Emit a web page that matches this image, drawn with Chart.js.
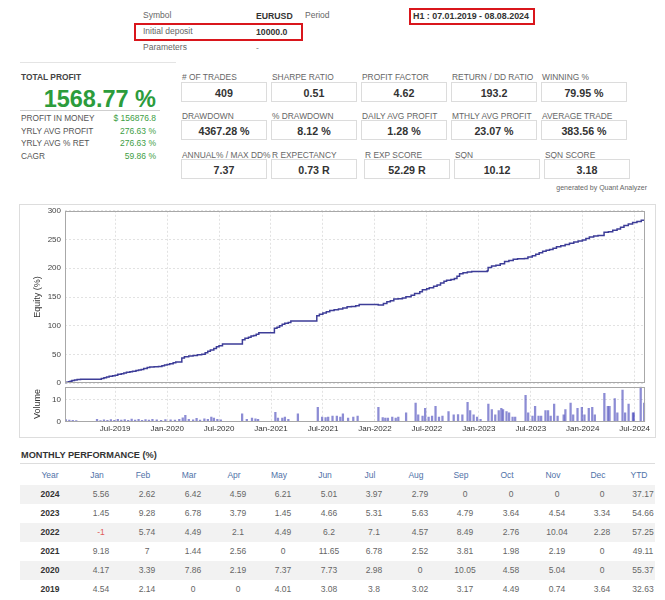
<!DOCTYPE html>
<html><head><meta charset="utf-8">
<script src="https://cdn.jsdelivr.net/npm/chart.js@4.4.1/dist/chart.umd.min.js"></script>
<style>
body{margin:0;background:#fff;font-family:"Liberation Sans",Arial,sans-serif;color:#555;}
#page{position:relative;width:665px;height:600px;overflow:hidden;}
.t{position:absolute;white-space:nowrap;line-height:12px;height:12px;}
.box{position:absolute;box-sizing:border-box;}
canvas{position:absolute;}
</style></head><body><div id="page">
<canvas id="eq"></canvas>
<canvas id="vol"></canvas>
</div>
<script>
// ---------- data ----------
const headerLabels = ['Symbol', 'Initial deposit', 'Parameters'];
const headerValues = ['EURUSD', '10000.0', '-'];
const periodText = 'H1 : 07.01.2019 - 08.08.2024';
const totalProfit = '1568.77 %';
const profitLabels = ['PROFIT IN MONEY', 'YRLY AVG PROFIT', 'YRLY AVG % RET', 'CAGR'];
const profitValues = ['$ 156876.8', '276.63 %', '276.63 %', '59.86 %'];
const statLabels1 = ['# OF TRADES', 'SHARPE RATIO', 'PROFIT FACTOR', 'RETURN / DD RATIO', 'WINNING %'];
const statValues1 = ['409', '0.51', '4.62', '193.2', '79.95 %'];
const statLabels2 = ['DRAWDOWN', '% DRAWDOWN', 'DAILY AVG PROFIT', 'MTHLY AVG PROFIT', 'AVERAGE TRADE'];
const statValues2 = ['4367.28 %', '8.12 %', '1.28 %', '23.07 %', '383.56 %'];
const statLabels3 = ['ANNUAL% / MAX DD%', 'R EXPECTANCY', 'R EXP SCORE', 'SQN', 'SQN SCORE'];
const statValues3 = ['7.37', '0.73 R', '52.29 R', '10.12', '3.18'];

const tableHead = ['Year','Jan','Feb','Mar','Apr','May','Jun','Jul','Aug','Sep','Oct','Nov','Dec','YTD'];
const years = ['2024','2023','2022','2021','2020','2019'];
const perf2024 = [5.56, 2.62, 6.42, 4.59, 6.21, 5.01, 3.97, 2.79, 0, 0, 0, 0, 37.17];
const perf2023 = [1.45, 9.28, 6.78, 3.79, 1.45, 4.66, 5.31, 5.63, 4.79, 3.64, 4.54, 3.34, 54.66];
const perf2022 = [-1, 5.74, 4.49, 2.1, 4.49, 6.2, 7.1, 4.57, 8.49, 2.76, 10.04, 2.28, 57.25];
const perf2021 = [9.18, 7, 1.44, 2.56, 0, 11.65, 6.78, 2.52, 3.81, 1.98, 2.19, 0, 49.11];
const perf2020 = [4.17, 3.39, 7.86, 2.19, 7.37, 7.73, 2.98, 0, 10.05, 4.58, 5.04, 0, 55.37];
const perf2019 = [4.54, 2.14, 0, 0, 4.01, 3.08, 3.8, 3.02, 3.17, 4.49, 0.74, 3.64, 32.63];

// x values are months since 1 Jan 2019
const xMin = 0.2, xMax = 67.23;
const tickVals = [6, 12, 18, 24, 30, 36, 42, 48, 54, 60, 66];
const tickLabels = ['Jul-2019','Jan-2020','Jul-2020','Jan-2021','Jul-2021','Jan-2022','Jul-2022','Jan-2023','Jul-2023','Jan-2024','Jul-2024'];

const equityX = [0.2,0.4,0.6,0.8,1.0,1.3,1.6,2.0,4.2,4.4,4.7,5.0,5.3,5.7,6.0,6.3,6.7,7.0,7.3,7.7,8.0,8.4,8.7,9.0,9.3,9.7,10.0,10.5,11.0,11.4,11.7,12.0,
 12.3,12.7,13.0,13.6,13.7,14.0,14.5,15.0,15.5,16.0,16.4,16.7,17.0,17.4,17.7,18.0,18.4,20.6,20.7,21.0,21.4,21.7,22.0,22.3,22.6,24.3,
 24.4,24.7,25.0,25.3,25.6,26.0,26.3,29.2,29.3,29.6,30.0,30.4,30.8,31.3,31.8,32.3,32.8,33.3,33.8,34.2,36.2,36.4,36.7,
 37.0,37.4,37.8,38.2,38.7,39.2,39.6,40.2,40.6,41.2,41.5,42.0,42.3,42.8,43.2,43.6,44.0,44.3,44.8,45.2,45.5,45.8,46.2,46.7,47.2,48.9,
 49.0,49.1,49.5,50.0,50.5,51.0,51.5,52.0,52.5,53.3,53.7,54.2,54.6,55.0,55.4,55.8,56.2,56.6,57.0,57.5,58.0,58.5,59.0,59.5,60.0,
 60.4,60.8,61.3,61.8,62.4,62.5,63.0,63.5,64.0,64.4,64.8,65.3,65.8,66.3,66.8,67.23];
const equityY = [0,1.5,2.5,3.5,4.54,5.6,6.3,6.68,6.68,8,9.5,10.69,12,13,13.77,15.5,16.6,17.57,19,20,20.59,22,23,23.76,25.5,27.5,28.25,28.6,28.99,30.5,31.8,32.63,
 34,35.5,36.8,36.8,44,46,47.5,48.05,49.5,50.24,53,55.5,57.61,60.5,63.5,65.34,68.32,68.32,75.5,78.37,80,82,82.95,85,87.99,87.99,
 95.5,97.17,100,102.5,104.17,105.61,108.17,108.17,117.5,119.82,122,124.5,126.6,128,129.12,131,132.93,133.5,134.91,137.1,137.1,136.1,136.1,
 138.5,141.84,143.5,146.33,147,148.43,150.5,152.92,156,159.12,162.5,164.5,166.22,168.5,170.79,174.5,177.5,179.28,180.5,182.04,186,190.5,192.08,193.5,194.36,194.36,
 195.81,201.5,204,205.09,208,211.87,213.5,215.66,216.5,217.11,219.5,221.77,224.5,227.08,229.5,231.5,232.71,235,237.5,239,241.14,243.5,245.68,247.5,249.02,
 252,254.58,256,257.2,257.2,262.5,263.62,266,268.21,271.5,274.42,277,279.43,281.5,283.4,286.19];

const volX = [0.3,0.7,1.1,1.5,3.9,4.3,4.7,5.1,5.5,5.9,6.3,6.7,7.1,7.5,7.9,8.3,8.7,9.1,9.5,9.9,10.3,10.8,11.3,11.8,
 12.4,12.9,13.4,13.8,14.1,14.5,15.0,15.4,15.8,16.3,16.7,17.1,17.4,17.8,18.2,
 20.66,21.2,21.8,22.2,22.5,24.5,24.8,25.3,25.6,26.0,27.1,29.4,29.9,30.3,30.6,31.1,31.6,32.0,32.3,32.9,33.5,34.0,
 36.4,36.9,37.2,37.5,38.0,38.4,38.7,39.6,40.7,41.0,41.5,41.8,42.2,42.6,43.0,43.4,43.8,44.5,45.1,45.6,46.1,46.7,47.0,47.4,47.8,48.2,
 49.1,49.5,49.9,50.3,50.6,50.8,51.2,51.5,51.9,52.2,53.4,53.7,54.2,54.5,54.9,55.2,55.7,56.0,56.3,56.7,57.1,57.8,58.0,58.6,58.9,59.4,59.9,60.2,60.7,61.1,61.4,
 62.5,62.9,63.1,63.7,64.0,64.6,64.9,65.3,65.8,65.9,66.7,67.1];
const volY = [0.8,0.6,0.5,0.4,0.9,0.4,0.7,0.5,0.8,0.5,0.9,0.6,0.8,0.5,1.1,0.6,0.9,0.5,0.8,0.6,0.9,0.7,0.5,0.8,
 0.7,0.6,0.9,1.6,2.8,1.0,0.7,1.4,0.6,1.2,0.9,2.0,1.5,0.9,0.7,
 3.5,1,1.5,1.2,1,4.2,1.5,1.5,2,1,3.5,6.5,2,1.8,2,2.5,2.5,2,3.5,1.5,2,2.5,
 6.5,1.8,1.5,1.5,2,1.5,2,4,8.5,3,2.5,6,2,2.5,7,2,2.5,4.5,3,3.2,3,8.8,5,3,2,1,
 8,5.5,3,5,6,5.5,4.5,4,2,2,12,4,2.5,7,2.5,2.5,5,5,2.5,8,2.5,3,5.5,8.5,3,6,6.5,3,6,6.5,3,
 13,7,7,10.5,4,14.5,4,8,4,4,16,8.5];

// ---------- HTML text ----------
const page = document.getElementById('page');
function txt(x, cy, s, css, align) {
  const d = document.createElement('div');
  d.className = 't';
  d.textContent = s;
  d.style.cssText += css || '';
  d.style.top = (cy - 6) + 'px';
  if (align === 'right') { d.style.right = (665 - x) + 'px'; }
  else if (align === 'center') { d.style.left = x + 'px'; d.style.transform = 'translateX(-50%)'; }
  else d.style.left = x + 'px';
  page.appendChild(d);
  return d;
}
function rect(x, y, w, h, css) {
  const d = document.createElement('div');
  d.className = 'box';
  d.style.cssText += `left:${x}px;top:${y}px;width:${w}px;height:${h}px;` + css;
  page.appendChild(d);
  return d;
}
// header
const hy = [15, 31, 47];
headerLabels.forEach((l, i) => {
  txt(143, hy[i], l, 'font-size:8.5px;color:#666;');
  txt(256, hy[i] + 1, headerValues[i], 'font-size:8.7px;font-weight:bold;color:#333;' + (i === 2 ? 'font-weight:normal;color:#888;' : ''));
});
txt(305, 15, 'Period', 'font-size:8.5px;color:#666;');
txt(413, 16, periodText, 'font-size:8.9px;font-weight:bold;color:#333;');
rect(409, 8, 126, 17, 'border:2px solid #d9161c;');
rect(134, 23, 169, 18, 'border:2px solid #d9161c;');

// left panel
rect(20, 62, 156, 1, 'background:#e4e4e4;');
txt(21, 77, 'TOTAL PROFIT', 'font-size:8.4px;font-weight:bold;color:#444;');
const big = txt(156, 99, totalProfit, 'font-size:23.5px;font-weight:bold;color:#2c9c3c;line-height:26px;height:26px;', 'right');
big.style.top = (99 - 13) + 'px';
rect(20, 110, 140, 1, 'background:#cfcfcf;');
const py = [118, 131, 143, 156];
profitLabels.forEach((l, i) => {
  txt(21, py[i], l, 'font-size:8.3px;color:#555;');
  txt(156, py[i], profitValues[i], 'font-size:8.5px;color:#3e9e44;', 'right');
});

// stats grid
const rowsStats = [[statLabels1, statValues1, 77, 82, [181, 271, 361, 451, 541]],
                   [statLabels2, statValues2, 116, 120, [181, 271, 361, 451, 541]],
                   [statLabels3, statValues3, 155, 159, [181, 271, 364, 454, 544]]];
rowsStats.forEach(([labs, vals, ly, by, xs]) => {
  labs.forEach((l, i) => {
    txt(xs[i] + 1, ly, l, 'font-size:8.4px;color:#666;');
    rect(xs[i], by, 86, 20, 'border:1px solid #dcdcdc;');
    txt(xs[i] + 43, by + 11, vals[i], 'font-size:10.7px;font-weight:bold;color:#333;', 'center');
  });
});
txt(647, 188, 'generated by Quant Analyzer', 'font-size:7px;color:#666;', 'right');

// chart frame
rect(19, 204, 637, 234, 'border:1px solid #dddddd;');

// table
txt(21, 455, 'MONTHLY PERFORMANCE (%)', 'font-size:9.2px;font-weight:bold;color:#333;');
rect(20, 463, 635, 1, 'background:#dddddd;');
const colX = [50, 97, 143, 189, 234, 279, 325, 370, 416, 461, 507, 553, 598, 639];
tableHead.forEach((h, i) => txt(colX[i], 475, h, 'font-size:8.5px;color:#4f72a8;', 'center'));
const perfRows = [perf2024, perf2023, perf2022, perf2021, perf2020, perf2019];
years.forEach((y, r) => {
  const cy = 494 + r * 19;
  if (r % 2 === 0) rect(20, cy - 9.5, 635, 19, 'background:#f2f2f2;');
  txt(colX[0], cy, y, 'font-size:8.5px;font-weight:bold;color:#333;', 'center');
  perfRows[r].forEach((v, c) => {
    txt(colX[c + 1] + 4, cy, String(v), 'font-size:8.5px;color:' + (v < 0 ? '#e05a5a' : '#666') + ';', 'center');
  });
});

// ---------- charts ----------
const frame = {
  id: 'frame',
  afterDraw(chart) {
    const {ctx, chartArea: a} = chart;
    ctx.save();
    ctx.strokeStyle = '#a8a8a8';
    ctx.lineWidth = 1;
    ctx.setLineDash([]);
    ctx.strokeRect(Math.round(a.left) + 0.5, Math.round(a.top) + 0.5, Math.round(a.right - a.left) - 1, Math.round(a.bottom - a.top) - 1);
    ctx.restore();
  }
};
const fontFam = '"Liberation Sans", Arial, sans-serif';
const xScale = (showTicks) => ({
  type: 'linear', min: xMin, max: xMax, offset: false,
  afterBuildTicks: s => { s.ticks = tickVals.map(v => ({value: v})); },
  ticks: {display: showTicks, autoSkip: false, maxRotation: 0, padding: 3,
    font: {family: fontFam, size: 8}, color: '#333',
    callback: v => { const k = tickVals.indexOf(v); return k >= 0 ? tickLabels[k] : ''; }},
  grid: {color: '#e2e2e2', lineWidth: 1, drawTicks: false, offset: false},
  border: {display: false, dash: [2, 2]}
});

// create a chart so that its plot area lands exactly on the page box L,T,R,B
function placeChart(id, cfg, L, T, R, B) {
  const cv = document.getElementById(id);
  const w0 = 632, h0 = 200;
  cv.width = w0; cv.height = h0; cv.style.width = w0 + 'px'; cv.style.height = h0 + 'px';
  let ch = new Chart(cv, cfg);
  const a = ch.chartArea;
  const exL = a.left, exT = a.top, exR = w0 - a.right, exB = h0 - a.bottom;
  ch.destroy();
  const w = Math.round((R - L) + exL + exR), h = Math.round((B - T) + exT + exB);
  cv.width = w; cv.height = h; cv.style.width = w + 'px'; cv.style.height = h + 'px';
  cv.style.left = Math.round(L - exL) + 'px'; cv.style.top = Math.round(T - exT) + 'px';
  return new Chart(cv, cfg);
}

placeChart('eq', {
  type: 'line',
  data: {datasets: [{
    data: equityX.map((x, i) => ({x, y: equityY[i]})),
    borderColor: '#3d3d98', borderWidth: 1.5, pointRadius: 0, stepped: true, fill: false
  }]},
  options: {
    responsive: false, animation: false,
    layout: {padding: {left: 8, top: 0, right: 0, bottom: 0}},
    plugins: {legend: {display: false}, tooltip: {enabled: false}},
    scales: {
      x: xScale(false),
      y: {min: 0, max: 300,
        afterFit: s => { s.width = 37; },
        ticks: {stepSize: 50, padding: 4, font: {family: fontFam, size: 8}, color: '#444'},
        title: {display: true, text: 'Equity (%)', font: {family: fontFam, size: 9}, color: '#333', padding: {top: 4, bottom: 2}},
        grid: {color: '#e2e2e2', drawTicks: false},
        border: {display: false, dash: [2, 2]}}
    }
  },
  plugins: [frame]
}, 65, 211, 645, 383);

placeChart('vol', {
  type: 'bar',
  data: {datasets: [{
    data: volX.map((x, i) => ({x, y: volY[i]})),
    backgroundColor: 'rgba(70,70,185,0.62)', borderWidth: 0, barThickness: 1.6, grouped: false
  }]},
  options: {
    responsive: false, animation: false,
    layout: {padding: {left: 8, top: 0, right: 0, bottom: 0}},
    plugins: {legend: {display: false}, tooltip: {enabled: false}},
    scales: {
      x: xScale(true),
      y: {min: 0, max: 16,
        afterFit: s => { s.width = 37; },
        afterBuildTicks: s => { s.ticks = [{value: 0}, {value: 10}]; },
        ticks: {padding: 4, font: {family: fontFam, size: 8}, color: '#444'},
        title: {display: true, text: 'Volume', font: {family: fontFam, size: 9}, color: '#333', padding: {top: 4, bottom: 2}},
        grid: {color: '#e2e2e2', drawTicks: false},
        border: {display: false, dash: [2, 2]}}
    }
  },
  plugins: [frame]
}, 65, 387, 645, 422);
</script>
</body></html>
